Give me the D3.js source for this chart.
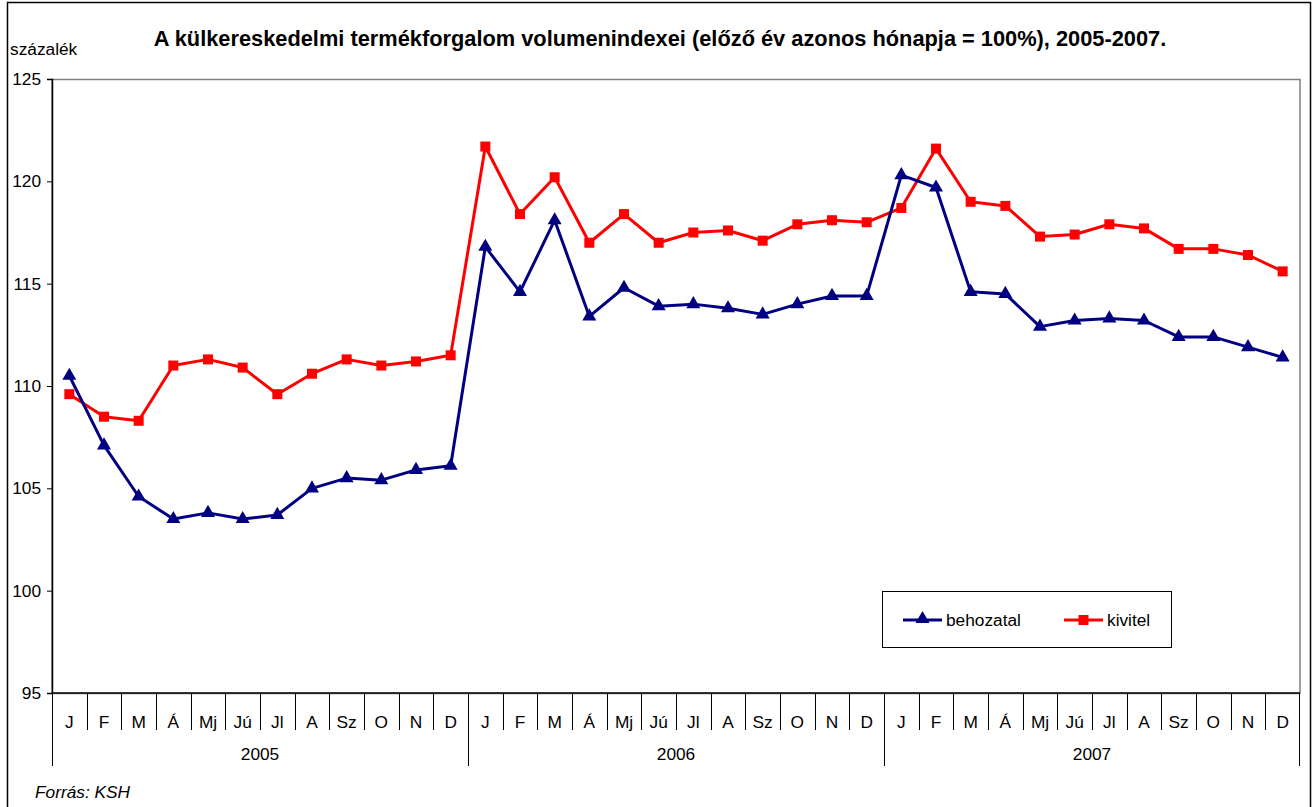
<!DOCTYPE html>
<html>
<head>
<meta charset="utf-8">
<script src="https://cdn.jsdelivr.net/npm/d3@7"></script>
<style>
  body { margin: 0; background: #fff; }
  svg { font-family: "Liberation Sans", Arial, sans-serif; }
</style>
</head>
<body>
<svg width="1313" height="807"></svg>
<script>
// Adatok
const years = ["2005", "2006", "2007"];
const months = ["J", "F", "M", "Á", "Mj", "Jú", "Jl", "A", "Sz", "O", "N", "D"];
const behozatal = [
  110.5, 107.1, 104.6, 103.5, 103.8, 103.5, 103.7, 105.0, 105.5, 105.4, 105.9, 106.1,
  116.8, 114.6, 118.1, 113.4, 114.8, 113.9, 114.0, 113.8, 113.5, 114.0, 114.4, 114.4,
  120.3, 119.7, 114.6, 114.5, 112.9, 113.2, 113.3, 113.2, 112.4, 112.4, 111.9, 111.4
];
const kivitel = [
  109.6, 108.5, 108.3, 111.0, 111.3, 110.9, 109.6, 110.6, 111.3, 111.0, 111.2, 111.5,
  121.7, 118.4, 120.2, 117.0, 118.4, 117.0, 117.5, 117.6, 117.1, 117.9, 118.1, 118.0,
  118.7, 121.6, 119.0, 118.8, 117.3, 117.4, 117.9, 117.7, 116.7, 116.7, 116.4, 115.6
];
const yTicks = [95, 100, 105, 110, 115, 120, 125];

// Kategóriák: év + hónap
const cats = [];
years.forEach(y => months.forEach(m => cats.push(y + "-" + m)));

const width = 1313, height = 807;
const margin = { top: 79, right: 13, bottom: 114, left: 52 };
const fs = 17.3; // alap betűméret

const svg = d3.select("svg");

// Külső keret
svg.append("rect")
  .attr("x", 7.5).attr("y", 2.5)
  .attr("width", 1303).attr("height", 812)
  .attr("fill", "none").attr("stroke", "#000").attr("stroke-width", 1.5);

const xScale = d3.scaleBand()
  .domain(cats)
  .range([margin.left, width - margin.right]);

const yScale = d3.scaleLinear()
  .domain([95, 125])
  .range([height - margin.bottom, margin.top]);

const x0 = margin.left, x1 = width - margin.right;
const yb = height - margin.bottom;

// Plot terület kerete (szürke)
svg.append("rect")
  .attr("x", x0).attr("y", margin.top + 0.5)
  .attr("width", x1 - x0).attr("height", yb - margin.top)
  .attr("fill", "none").attr("stroke", "#808080").attr("stroke-width", 1.5);

// Y tengely
const yAxis = svg.append("g")
  .attr("transform", `translate(${x0},0)`)
  .call(d3.axisLeft(yScale).tickValues(yTicks).tickSize(5).tickPadding(6));
yAxis.select(".domain").attr("stroke", "#000").attr("stroke-width", 1.5);
yAxis.selectAll(".tick line").attr("stroke", "#000");
yAxis.selectAll("text").attr("font-size", fs).attr("fill", "#000")
  .attr("font-family", "Liberation Sans, Arial, sans-serif");

// X tengely vonal
svg.append("line")
  .attr("x1", x0).attr("x2", x1).attr("y1", yb).attr("y2", yb)
  .attr("stroke", "#000").attr("stroke-width", 1.5);

// Hónap elválasztók
const step = xScale.step();
cats.forEach((c, i) => {
  const xb = Math.round(xScale(c)) + 0.5;
  const isYear = i % 12 === 0;
  svg.append("line")
    .attr("x1", xb).attr("x2", xb)
    .attr("y1", yb).attr("y2", isYear ? yb + 73 : yb + 37)
    .attr("stroke", "#000").attr("stroke-width", 1);
});
svg.append("line")
  .attr("x1", x1 - 0.5).attr("x2", x1 - 0.5)
  .attr("y1", yb).attr("y2", yb + 73)
  .attr("stroke", "#000");

// Hónap feliratok
svg.append("g").selectAll("text")
  .data(cats)
  .join("text")
  .attr("x", d => xScale(d) + step / 2)
  .attr("y", yb + 35)
  .attr("text-anchor", "middle")
  .attr("font-size", fs)
  .text(d => d.split("-")[1]);

// Év feliratok
svg.append("g").selectAll("text")
  .data(years)
  .join("text")
  .attr("x", d => xScale(d + "-J") + step * 6)
  .attr("y", yb + 67)
  .attr("text-anchor", "middle")
  .attr("font-size", fs)
  .text(d => d);

// Vonalak
const line = d3.line()
  .x((d, i) => xScale(cats[i]) + step / 2)
  .y(d => yScale(d));

svg.append("path")
  .datum(kivitel)
  .attr("d", line)
  .attr("fill", "none").attr("stroke", "#ff0000").attr("stroke-width", 3)
  .attr("stroke-linejoin", "round");

svg.append("path")
  .datum(behozatal)
  .attr("d", line)
  .attr("fill", "none").attr("stroke", "#000080").attr("stroke-width", 3)
  .attr("stroke-linejoin", "round");

// Jelölők
const tri = d3.symbol().type(d3.symbolTriangle).size(85);
svg.append("g").selectAll("path")
  .data(behozatal)
  .join("path")
  .attr("d", tri)
  .attr("transform", (d, i) => `translate(${xScale(cats[i]) + step / 2},${yScale(d)})`)
  .attr("fill", "#000080");

svg.append("g").selectAll("rect")
  .data(kivitel)
  .join("rect")
  .attr("x", (d, i) => xScale(cats[i]) + step / 2 - 5)
  .attr("y", d => yScale(d) - 5)
  .attr("width", 10).attr("height", 10)
  .attr("fill", "#ff0000");

// Cím
svg.append("text")
  .attr("x", 660).attr("y", 46)
  .attr("text-anchor", "middle")
  .attr("font-size", 21.8).attr("font-weight", "bold")
  .text("A külkereskedelmi termékforgalom volumenindexei (előző év azonos hónapja = 100%), 2005-2007.");

svg.append("text")
  .attr("x", 10).attr("y", 55)
  .attr("font-size", fs)
  .text("százalék");

// Forrás
svg.append("text")
  .attr("x", 35).attr("y", 798)
  .attr("font-size", fs).attr("font-style", "italic")
  .text("Forrás: KSH");

// Jelmagyarázat
const lg = svg.append("g");
lg.append("rect")
  .attr("x", 882.5).attr("y", 591.5).attr("width", 289).attr("height", 56)
  .attr("fill", "#fff").attr("stroke", "#000").attr("stroke-width", 1);

const legendItems = [
  { name: "behozatal", color: "#000080", x: 903 },
  { name: "kivitel", color: "#ff0000", x: 1064 }
];
legendItems.forEach(it => {
  lg.append("line")
    .attr("x1", it.x).attr("x2", it.x + 39).attr("y1", 620).attr("y2", 620)
    .attr("stroke", it.color).attr("stroke-width", 3);
  if (it.name === "behozatal") {
    lg.append("path").attr("d", tri)
      .attr("transform", `translate(${it.x + 19.5},619)`)
      .attr("fill", it.color);
  } else {
    lg.append("rect")
      .attr("x", it.x + 14.5).attr("y", 615).attr("width", 10).attr("height", 10)
      .attr("fill", it.color);
  }
  lg.append("text")
    .attr("x", it.x + 43).attr("y", 626)
    .attr("font-size", fs)
    .text(it.name);
});
</script>
</body>
</html>
